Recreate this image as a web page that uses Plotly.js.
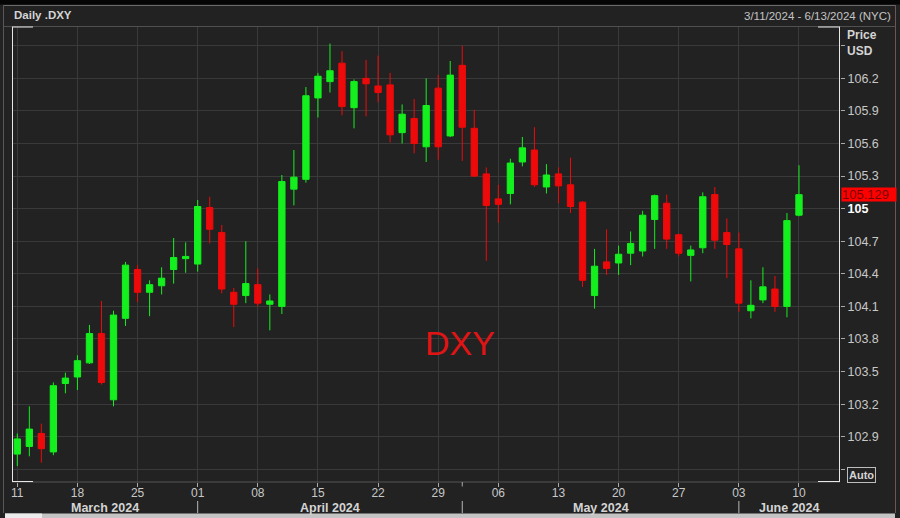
<!DOCTYPE html>
<html><head><meta charset="utf-8">
<script src="https://cdn.plot.ly/plotly-3.0.1.min.js"></script>
<style>html,body{margin:0;padding:0;background:#222;}#chart{width:900px;height:518px;}</style>
</head><body><div id="chart"></div>
<script>
const dates = [
 '2024-03-11','2024-03-12','2024-03-13','2024-03-14','2024-03-15','2024-03-18','2024-03-19','2024-03-20','2024-03-21','2024-03-22',
 '2024-03-25','2024-03-26','2024-03-27','2024-03-28','2024-03-29',
 '2024-04-01','2024-04-02','2024-04-03','2024-04-04','2024-04-05','2024-04-08','2024-04-09','2024-04-10','2024-04-11','2024-04-12',
 '2024-04-15','2024-04-16','2024-04-17','2024-04-18','2024-04-19','2024-04-22','2024-04-23','2024-04-24','2024-04-25','2024-04-26',
 '2024-04-29','2024-04-30',
 '2024-05-01','2024-05-02','2024-05-03','2024-05-06','2024-05-07','2024-05-08','2024-05-09','2024-05-10','2024-05-13','2024-05-14',
 '2024-05-15','2024-05-16','2024-05-17','2024-05-20','2024-05-21','2024-05-22','2024-05-23','2024-05-24','2024-05-27','2024-05-28',
 '2024-05-29','2024-05-30','2024-05-31',
 '2024-06-03','2024-06-04','2024-06-05','2024-06-06','2024-06-07','2024-06-10'
];
const openP = [102.74,102.81,102.93,102.76,103.39,103.45,103.58,103.85,103.24,103.99,
 104.44,104.23,104.29,104.44,104.54,
 104.49,105.01,104.78,104.23,104.20,104.30,104.12,104.10,105.18,105.27,
 106.02,106.17,106.34,105.93,106.20,106.13,106.14,105.70,105.83,105.57,
 106.11,105.67,
 106.32,105.74,105.32,105.09,105.14,105.43,105.54,105.20,105.32,105.22,
 105.06,104.20,104.51,104.50,104.59,104.61,104.90,105.05,104.76,104.57,
 104.64,105.13,104.78,
 104.63,104.06,104.16,104.26,104.10,104.94];
const highP = [102.93,103.18,103.02,103.40,103.49,103.65,103.93,104.15,104.06,104.51,
 104.48,104.34,104.46,104.73,104.69,
 105.08,105.11,104.85,104.27,104.70,104.45,104.21,105.31,105.54,106.12,
 106.25,106.52,106.45,106.19,106.37,106.41,106.25,105.96,106.01,106.20,
 106.23,106.36,
 106.50,105.91,105.38,105.22,105.46,105.66,105.75,105.41,105.38,105.47,
 105.07,104.63,104.81,104.66,104.79,104.98,105.13,105.13,104.77,104.66,
 105.15,105.20,104.91,
 104.78,104.34,104.46,104.38,104.96,105.40];
const lowP = [102.63,102.72,102.66,102.73,103.30,103.33,103.57,103.38,103.18,103.92,
 104.14,104.01,104.21,104.31,104.41,
 104.42,104.68,104.22,103.91,104.13,104.10,103.88,104.03,105.03,105.24,
 105.84,106.07,105.86,105.74,105.85,105.98,105.61,105.60,105.51,105.43,
 105.45,105.66,
 105.44,105.29,104.52,104.87,105.04,105.39,105.20,105.14,105.05,104.96,
 104.28,104.08,104.39,104.39,104.48,104.56,104.63,104.63,104.56,104.33,
 104.59,104.63,104.36,
 104.05,103.99,104.13,104.05,104.00,104.93];
const closeP = [102.88,102.97,102.79,103.37,103.44,103.60,103.85,103.40,104.02,104.48,
 104.23,104.30,104.36,104.55,104.56,
 105.02,104.81,104.26,104.12,104.31,104.13,104.15,105.25,105.29,106.04,
 106.22,106.27,105.94,106.17,106.15,106.07,105.68,105.87,105.60,105.95,
 105.57,106.23,
 105.75,105.30,105.03,105.04,105.42,105.56,105.22,105.31,105.21,105.02,
 104.34,104.47,104.45,104.58,104.68,104.94,105.12,104.72,104.59,104.62,
 105.11,104.71,104.67,
 104.13,104.11,104.28,104.10,104.89,105.129];

const xTickDates = ['2024-03-11','2024-03-18','2024-03-25','2024-04-01','2024-04-08','2024-04-15','2024-04-22',
 '2024-04-29','2024-05-06','2024-05-13','2024-05-20','2024-05-27','2024-06-03','2024-06-10'];
const xTickText = ['11','18','25','01','08','15','22','29','06','13','20','27','03','10'];
const yTickVals = [102.6,102.9,103.2,103.5,103.8,104.1,104.4,104.7,105.0,105.3,105.6,105.9,106.2,106.5];
const yTickText = ['','102.9','103.2','103.5','103.8','104.1','104.4','104.7','<b><span style="color:#ffffff">105</span></b>','105.3','105.6','105.9','106.2',''];
const monthLabels = ['March 2024','April 2024','May 2024','June 2024'];
const monthStarts = ['2024-04-01','2024-05-01','2024-06-03'];
const lastPrice = 105.129;
const chartTitle = 'Daily .DXY';
const dateRangeText = '3/11/2024 - 6/13/2024 (NYC)';
const watermark = 'DXY';

const FONT = 'Liberation Sans, Arial, sans-serif';
const GREEN = '#14ef1e', RED = '#ee0a0a';
const XR = [-0.44, 68.41];
const L = 12, T = 27, B = 36, R = 60, W = 900 - L - R, H = 518 - T - B;
const px = x => (x - L) / W;
const py = y => (518 - B - y) / H;

const trace = {
  type: 'candlestick', x: dates, open: openP, high: highP, low: lowP, close: closeP,
  increasing: {line: {color: GREEN, width: 1}, fillcolor: GREEN},
  decreasing: {line: {color: RED, width: 1}, fillcolor: RED},
  whiskerwidth: 0, hoverinfo: 'skip', showlegend: false
};

const idx = d => dates.indexOf(d);
const sepIdx = monthStarts.map(idx);
const bounds = [XR[0], ...sepIdx, XR[1]];

const shapes = [];
const ln = (x0, y0, x1, y1, color) => shapes.push({type: 'line', xref: 'paper', yref: 'paper',
  x0: px(x0), x1: px(x1), y0: py(y0), y1: py(y1), line: {color: color, width: 1}});
shapes.push({type: 'rect', xref: 'paper', yref: 'paper', x0: px(0), x1: px(900), y0: py(4.5), y1: py(0),
  fillcolor: '#050505', line: {width: 0}});
ln(3.5, 5.5, 895.5, 5.5, '#6a6a6a');
ln(3.5, 5, 3.5, 513, '#585858');
ln(895.5, 5, 895.5, 513, '#6b5555');
ln(3.5, 26.5, 895.5, 26.5, '#505050');
ln(12, 482, 840, 482, '#555555');
ln(12.5, 27, 12.5, 482, '#e8e8e8');
ln(839.5, 27, 839.5, 482, '#e8e8e8');
ln(12, 27, 33, 27, '#e8e8e8');
ln(818, 27, 840, 27, '#e8e8e8');
ln(12, 481.5, 33, 481.5, '#e8e8e8');
ln(818, 481.5, 840, 481.5, '#e8e8e8');
shapes.push({type: 'rect', xref: 'paper', yref: 'paper', x0: px(5), x1: px(895), y0: py(518), y1: py(513.5),
  fillcolor: '#c4c4c4', line: {width: 0}});
shapes.push({type: 'rect', xref: 'paper', yref: 'paper', x0: px(5), x1: px(42), y0: py(518), y1: py(513.5),
  fillcolor: '#ececec', line: {width: 0}});
sepIdx.forEach(i => shapes.push({type: 'line', xref: 'x', yref: 'paper', x0: i, x1: i,
  y0: py(501), y1: py(513), line: {color: '#b8b8b8', width: 1}}));
shapes.push({type: 'line', xref: 'x', yref: 'paper', x0: idx('2024-05-01'), x1: idx('2024-05-01'),
  y0: py(482), y1: py(486.5), line: {color: '#aaaaaa', width: 1}});

const annotations = [];
const ann = o => annotations.push(Object.assign({showarrow: false, xref: 'paper', yref: 'paper'}, o));
ann({x: px(12), y: py(15), xanchor: 'left', yanchor: 'middle', text: '<b>' + chartTitle + '</b>',
  font: {family: FONT, size: 11.5, color: '#d4d4d4'}});
ann({x: px(893), y: py(16), xanchor: 'right', yanchor: 'middle', text: dateRangeText,
  font: {family: FONT, size: 11.5, color: '#c4c4c4'}});
ann({x: px(845), y: py(34.5), xanchor: 'left', yanchor: 'middle', text: '<b>Price</b>',
  font: {family: FONT, size: 12, color: '#d4d4d4'}});
ann({x: px(845), y: py(50.5), xanchor: 'left', yanchor: 'middle', text: '<b>USD</b>',
  font: {family: FONT, size: 12, color: '#d4d4d4'}});
ann({x: px(841), yref: 'y', y: lastPrice, xanchor: 'left', yanchor: 'middle', text: lastPrice.toFixed(3),
  bgcolor: '#ff0000', borderpad: 0, width: 54, height: 13, align: 'left',
  font: {family: FONT, size: 13, color: '#7a0000'}});
ann({x: px(847), y: py(475), xanchor: 'left', yanchor: 'middle', text: '<b>Auto</b>',
  bordercolor: '#bdbdbd', borderwidth: 1, borderpad: 1,
  font: {family: FONT, size: 11, color: '#d4d4d4'}});
ann({x: px(460), y: py(343), xanchor: 'center', yanchor: 'middle', text: watermark,
  font: {family: FONT, size: 34, color: '#e01414'}});
monthLabels.forEach((m, k) => ann({xref: 'x', x: (bounds[k] + bounds[k + 1]) / 2, y: py(507.5),
  xanchor: 'center', yanchor: 'middle', text: '<b>' + m + '</b>',
  font: {family: FONT, size: 12.5, color: '#d4d4d4'}}));

const layout = {
  width: 900, height: 518,
  margin: {l: L, r: R, t: T, b: B, pad: 0},
  paper_bgcolor: '#222222', plot_bgcolor: '#222222',
  boxgap: 0.25,
  font: {family: FONT, color: '#c8c8c8'},
  xaxis: {
    type: 'category', range: XR, tickmode: 'array', tickvals: xTickDates, ticktext: xTickText,
    ticks: 'outside', ticklen: 4, tickcolor: '#aaaaaa', tickangle: 0, ticklabelstandoff: -4,
    tickfont: {family: FONT, size: 12, color: '#c8c8c8'},
    showgrid: true, gridcolor: '#3a3a3a', gridwidth: 1, showline: false, zeroline: false,
    rangeslider: {visible: false}, fixedrange: true
  },
  yaxis: {
    side: 'right', range: [102.483, 106.673], tickmode: 'array', tickvals: yTickVals, ticktext: yTickText,
    ticks: 'outside', ticklen: 4, tickcolor: '#aaaaaa',
    tickfont: {family: FONT, size: 12.5, color: '#c8c8c8'},
    showgrid: true, gridcolor: '#3a3a3a', gridwidth: 1, showline: false, zeroline: false, fixedrange: true
  },
  shapes: shapes, annotations: annotations, showlegend: false
};
Plotly.newPlot('chart', [trace], layout, {displayModeBar: false, staticPlot: true});
</script>
</body></html>
